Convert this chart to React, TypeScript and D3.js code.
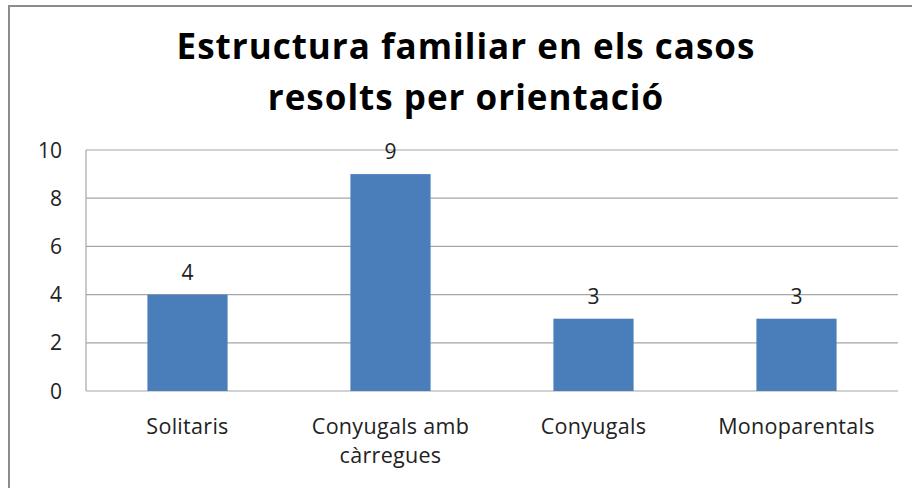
import React from "react";
import * as d3 from "d3";

const categories: string[][] = [
  ["Solitaris"],
  ["Conyugals amb", "càrregues"],
  ["Conyugals"],
  ["Monoparentals"],
];
const values: number[] = [4, 9, 3, 3];
const yTicks: number[] = [0, 2, 4, 6, 8, 10];
const titleLines: string[] = ["Estructura familiar en els casos", "resolts per orientació"];

const W = 912;
const H = 488;
const plot = { left: 86, right: 898, top: 150, bottom: 391 };
const FONT = "'Open Sans', 'DejaVu Sans', sans-serif";

export default function App() {
  const x = d3
    .scaleBand<number>()
    .domain(values.map((_, i) => i))
    .range([plot.left, plot.right])
    .paddingInner(0.605)
    .paddingOuter(0.3025);
  const y = d3.scaleLinear().domain([0, 10]).range([plot.bottom, plot.top]);

  return (
    <svg
      width={W}
      height={H}
      style={{ position: "fixed", left: 0, top: 0, background: "#fff" }}
      fontFamily={FONT}
    >
      <rect x={0} y={0} width={W} height={H} fill="#fff" />
      {/* outer frame */}
      <path d={`M9,${H + 5} L9,6 L${W + 5},6`} fill="none" stroke="#8c8c8c" strokeWidth={2} />
      {/* title */}
      <text x={466} y={59} textAnchor="middle" fontSize={35} fontWeight="bold" letterSpacing={1} fill="#000">
        {titleLines[0]}
      </text>
      <text x={466} y={110} textAnchor="middle" fontSize={35} fontWeight="bold" letterSpacing={1} fill="#000">
        {titleLines[1]}
      </text>
      {/* gridlines */}
      {yTicks.map((t) => (
        <line
          key={t}
          x1={plot.left}
          x2={plot.right}
          y1={y(t)}
          y2={y(t)}
          stroke="#a6a6a6"
          strokeWidth={1.2}
        />
      ))}
      {/* y axis line */}
      <line x1={plot.left} x2={plot.left} y1={plot.top} y2={plot.bottom} stroke="#a6a6a6" strokeWidth={1.2} />
      {/* y tick labels */}
      {yTicks.map((t) => (
        <text key={t} x={62} y={y(t)} dy="0.36em" textAnchor="end" fontSize={21} fill="#222">
          {t}
        </text>
      ))}
      {/* bars */}
      {values.map((v, i) => (
        <rect
          key={i}
          x={x(i)}
          y={y(v)}
          width={x.bandwidth()}
          height={y(0) - y(v)}
          fill="#4a7ebb"
        />
      ))}
      {/* value labels */}
      {values.map((v, i) => (
        <text
          key={i}
          x={(x(i) as number) + x.bandwidth() / 2}
          y={y(v) - 15}
          textAnchor="middle"
          fontSize={21}
          fill="#222"
        >
          {v}
        </text>
      ))}
      {/* category labels */}
      {categories.map((lines, i) =>
        lines.map((l, j) => (
          <text
            key={`${i}-${j}`}
            x={(x(i) as number) + x.bandwidth() / 2}
            y={434 + j * 29}
            textAnchor="middle"
            fontSize={21.5}
            letterSpacing={0.3}
            fill="#222"
          >
            {l}
          </text>
        ))
      )}
    </svg>
  );
}
